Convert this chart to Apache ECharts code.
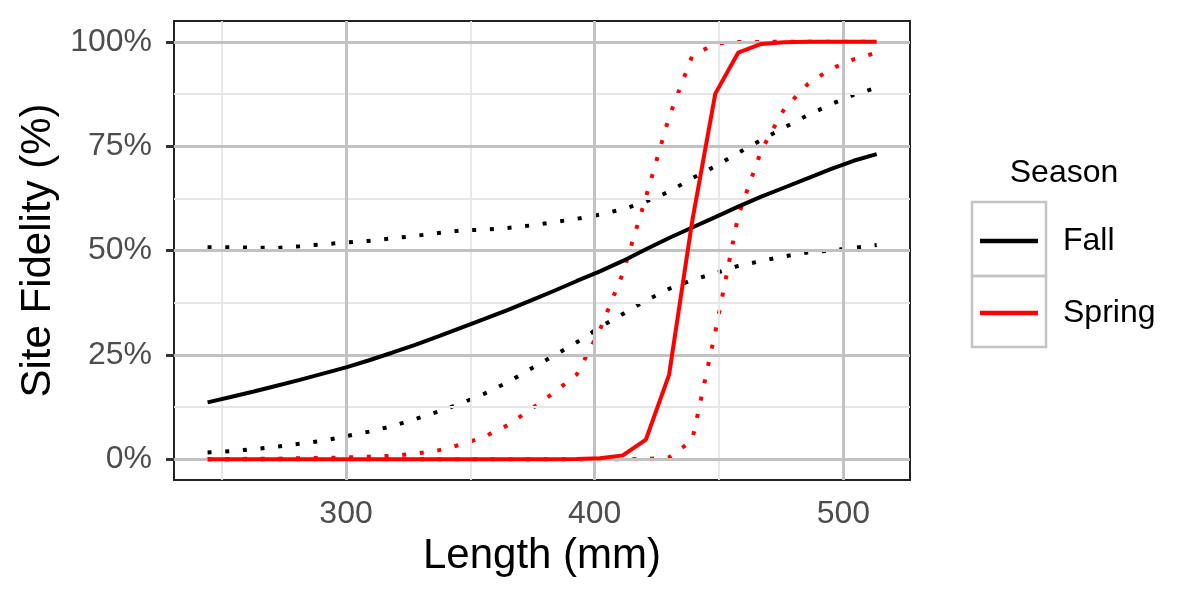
<!DOCTYPE html>
<html>
<head>
<meta charset="utf-8">
<script src="https://cdn.jsdelivr.net/npm/echarts@6/dist/echarts.min.js"></script>
<style>html,body{margin:0;padding:0;background:#fff}#c{width:1200px;height:600px}</style>
</head>
<body>
<div id="c"></div>
<script>
const lengths = [244.3, 253.6, 262.9, 272.1, 281.4, 290.7, 300.0, 309.3, 318.5, 327.8, 337.1, 346.4, 355.7, 364.9, 374.2, 383.5, 392.8, 402.1, 411.3, 420.6, 429.9, 439.2, 448.5, 457.7, 467.0, 476.3, 485.6, 494.9, 504.1, 513.4];
const fallFit = [13.6, 14.9, 16.2, 17.6, 19.0, 20.5, 22.0, 23.7, 25.5, 27.4, 29.4, 31.5, 33.6, 35.7, 38.0, 40.3, 42.7, 45.0, 47.5, 50.3, 53.0, 55.5, 58.0, 60.5, 62.9, 65.1, 67.3, 69.5, 71.5, 73.1];
const fallUpper = [50.8, 50.8, 50.7, 50.6, 51.0, 51.5, 51.9, 52.3, 52.9, 53.5, 54.2, 54.8, 55.0, 55.4, 56.0, 56.8, 57.6, 58.6, 59.9, 61.7, 64.1, 67.3, 70.2, 73.4, 76.5, 79.5, 82.4, 85.0, 87.3, 89.0];
const fallLower = [1.6, 1.9, 2.4, 3.0, 3.7, 4.4, 5.5, 6.6, 7.9, 9.6, 11.4, 13.4, 15.7, 18.4, 21.6, 24.8, 28.0, 31.6, 34.8, 38.0, 40.8, 42.9, 44.6, 46.3, 47.5, 48.6, 49.5, 50.0, 50.6, 51.3];
const springFit = [0, 0, 0, 0, 0, 0, 0, 0, 0, 0, 0, 0, 0, 0, 0, 0, 0.05, 0.2, 0.9, 4.7, 20.2, 57.0, 87.6, 97.4, 99.5, 99.9, 100, 100, 100, 100];
const springUpper = [0.0, 0.0, 0.1, 0.1, 0.2, 0.3, 0.4, 0.6, 0.8, 1.3, 2.1, 3.5, 5.4, 8.1, 11.9, 15.9, 20.3, 31.0, 44.5, 62.8, 82.0, 96.6, 99.6, 99.97, 100, 100, 100, 100, 100, 100];
const springLower = [0, 0, 0, 0, 0, 0, 0, 0, 0, 0, 0, 0, 0, 0, 0, 0, 0, 0, 0, 0.05, 0.4, 4.5, 30.5, 58.3, 74.0, 84.0, 89.8, 93.5, 95.8, 97.4];
const xMajorTicks = [300, 400, 500];
const xMinorTicks = [250, 350, 450];
const yMajorTicks = [0, 25, 50, 75, 100];
const yMinorTicks = [12.5, 37.5, 62.5, 87.5];
const seasons = ['Fall', 'Spring'];
const seasonColors = ['#000000', '#FF0000'];

const FONT = 'Liberation Sans, Arial, sans-serif';
const pair = arr => lengths.map((x, i) => [x, arr[i]]);
const dotted = { width: 4, type: [4, 13.7], cap: 'butt' };

const majorStyle = { color: '#C2C2C2', width: 3, type: 'solid' };
const minorStyle = { color: '#E6E6E6', width: 1.8, type: 'solid' };
const gridLines = []
  .concat(xMinorTicks.map(v => ({ xAxis: v, lineStyle: minorStyle })))
  .concat(yMinorTicks.map(v => ({ yAxis: v, lineStyle: minorStyle })))
  .concat(xMajorTicks.map(v => ({ xAxis: v, lineStyle: majorStyle })))
  .concat(yMajorTicks.map(v => ({ yAxis: v, lineStyle: majorStyle })));

function lineSeries(name, color, data, style, z) {
  return {
    name: name, type: 'line', data: pair(data), symbol: 'none', showSymbol: false,
    lineStyle: Object.assign({ color: color }, style), itemStyle: { color: color },
    z: z, silent: true, animation: false
  };
}

const chart = echarts.init(document.getElementById('c'), null, { renderer: 'canvas' });
chart.setOption({
  animation: false,
  backgroundColor: '#ffffff',
  textStyle: { fontFamily: FONT },
  grid: { left: 174, right: 290, top: 21, bottom: 120, show: true, borderColor: '#222', borderWidth: 2, backgroundColor: 'transparent', containLabel: false },
  xAxis: {
    type: 'value', min: 230.8, max: 526.8,
    name: 'Length (mm)', nameLocation: 'middle', nameGap: 55,
    nameTextStyle: { fontSize: 42, color: '#000', fontFamily: FONT },
    axisLine: { show: false },
    axisTick: { show: true, length: 8, customValues: xMajorTicks, lineStyle: { color: '#333', width: 3 } },
    axisLabel: { customValues: xMajorTicks, fontSize: 32, color: '#4D4D4D', margin: 18, fontFamily: FONT },
    splitLine: { show: false }
  },
  yAxis: {
    type: 'value', min: -5, max: 105,
    name: 'Site Fidelity (%)', nameLocation: 'middle', nameGap: 114, nameRotate: 90,
    nameTextStyle: { fontSize: 42, color: '#000', fontFamily: FONT },
    axisLine: { show: false },
    axisTick: { show: true, length: 8, customValues: yMajorTicks, lineStyle: { color: '#333', width: 3 } },
    axisLabel: { customValues: yMajorTicks, fontSize: 32, color: '#4D4D4D', margin: 22, fontFamily: FONT, formatter: v => v + '%' },
    splitLine: { show: false }
  },
  legend: {
    show: true, orient: 'vertical', left: 980, top: 225, padding: 0,
    itemWidth: 58, itemHeight: 4.5, itemGap: 40, icon: 'rect',
    data: seasons,
    textStyle: { fontSize: 32, color: '#000', fontFamily: FONT, padding: [0, 0, 0, 20] },
    selectedMode: false
  },
  graphic: [
    { type: 'text', x: 1064, y: 173, style: { text: 'Season', fontSize: 32, fill: '#000', fontFamily: FONT, align: 'center', verticalAlign: 'middle' } },
    { type: 'rect', shape: { x: 972, y: 202, width: 74, height: 74 }, style: { fill: 'none', stroke: '#C4C4C4', lineWidth: 2.5 }, z: 0 },
    { type: 'rect', shape: { x: 972, y: 276, width: 74, height: 71 }, style: { fill: 'none', stroke: '#C4C4C4', lineWidth: 2.5 }, z: 0 }
  ],
  series: [
    { name: 'grid', type: 'line', data: [], z: 1, silent: true,
      markLine: { silent: true, symbol: 'none', label: { show: false }, animation: false, data: gridLines } },
    lineSeries(seasons[0], seasonColors[0], fallFit, { width: 4, type: 'solid' }, 5),
    lineSeries(seasons[0], seasonColors[0], fallUpper, dotted, 4),
    lineSeries(seasons[0], seasonColors[0], fallLower, dotted, 4),
    lineSeries(seasons[1], seasonColors[1], springFit, { width: 4, type: 'solid' }, 5),
    lineSeries(seasons[1], seasonColors[1], springUpper, dotted, 4),
    lineSeries(seasons[1], seasonColors[1], springLower, dotted, 4)
  ]
});
</script>
</body>
</html>
